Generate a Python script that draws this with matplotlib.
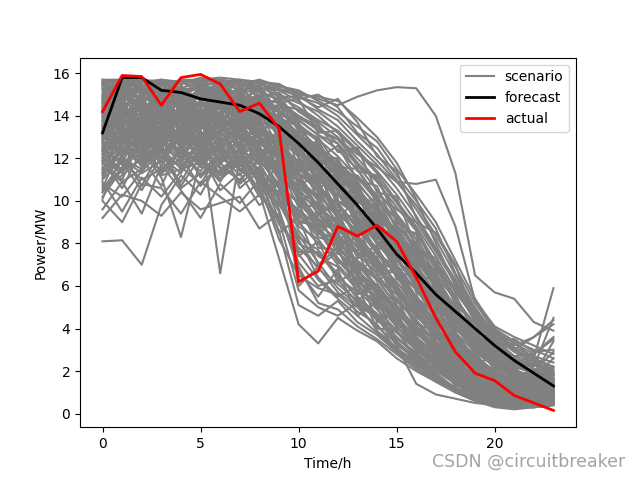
import matplotlib
matplotlib.use("Agg")
import matplotlib.pyplot as plt

hours = list(range(24))

forecast = [13.2, 15.8, 15.8, 15.2, 15.1, 14.8, 14.65, 14.5, 14.1, 13.5, 12.7, 11.8,
            10.8, 9.8, 8.7, 7.5, 6.6, 5.6, 4.8, 4.0, 3.2, 2.5, 1.9, 1.3]
actual = [14.2, 15.9, 15.85, 14.5, 15.8, 15.95, 15.5, 14.2, 14.6, 13.4, 6.2, 6.7,
          8.8, 8.35, 8.85, 8.1, 6.4, 4.5, 2.9, 1.9, 1.55, 0.85, 0.5, 0.15]

# scenario curves (approximate)
scenarios = [
    [15.7,15.7,15.6,15.7,15.6,15.7,15.7,15.6,15.5,15.3,14.9,14.6,14.0,13.1,12.2,11.0,9.6,8.2,6.5,4.8,3.6,2.9,2.4,2.0],
    [14.8,15.2,15.7,15.3,14.9,15.5,15.1,14.6,15.0,14.2,13.8,13.1,12.4,11.5,10.2,9.1,7.8,6.4,5.0,3.9,2.8,2.2,1.9,1.5],
    [13.5,14.2,13.1,14.8,14.0,13.6,14.4,13.9,13.2,12.5,11.6,10.8,9.5,8.4,7.3,6.0,4.9,3.8,2.9,2.1,1.6,1.2,1.0,0.9],
    [12.1,13.0,14.1,12.6,13.5,14.2,12.8,13.6,12.3,11.8,10.4,9.9,8.6,7.9,6.3,5.1,4.0,3.2,2.4,1.8,1.1,0.9,0.8,0.7],
    [15.5,15.7,15.7,15.2,15.6,15.1,15.4,15.7,14.8,14.6,14.0,13.3,12.9,11.8,10.9,9.7,8.6,7.1,5.9,4.5,3.4,2.6,2.3,1.8],
    [11.2,12.5,11.8,13.0,12.1,11.4,12.9,12.2,11.5,10.6,9.3,8.5,7.9,6.8,5.6,4.6,3.5,2.7,1.9,1.2,0.8,0.6,0.5,0.6],
    [14.1,15.0,14.6,15.6,14.3,15.2,14.7,13.8,14.4,13.6,12.8,12.0,11.2,10.1,8.9,7.6,6.5,5.2,4.1,3.3,2.5,2.0,1.7,1.9],
    [13.0,12.2,13.6,14.0,12.9,13.8,13.1,14.2,13.5,12.9,12.1,11.0,10.3,9.1,8.0,6.9,5.5,4.6,3.5,2.6,1.9,1.4,1.2,1.0],
    [10.4,11.6,12.8,11.3,12.0,10.7,11.8,10.9,12.1,11.2,8.6,7.4,6.9,5.8,4.9,3.9,3.1,2.3,1.7,1.1,0.7,0.5,0.6,0.5],
    [15.6,15.1,15.7,14.9,15.7,15.6,14.8,15.3,15.6,15.0,14.6,14.2,13.5,12.6,11.7,10.6,9.3,7.8,6.2,4.9,3.8,3.0,2.6,2.2],
    [8.1,8.15,7.0,9.8,11.2,10.3,12.0,11.5,10.6,9.9,8.1,6.8,6.1,5.3,4.4,3.6,2.8,2.1,1.5,1.0,0.7,0.5,0.4,0.6],
    [12.6,13.4,12.9,13.8,12.5,13.2,6.6,12.1,12.8,11.9,10.9,10.1,9.0,8.2,7.1,6.2,5.0,4.0,3.1,2.3,1.6,1.3,1.1,1.2],
    [11.9,10.6,12.4,11.1,8.3,12.0,11.3,12.5,11.7,10.3,9.6,8.8,7.6,6.7,5.9,4.8,3.8,2.9,2.0,1.4,0.9,0.7,0.6,0.8],
    [9.6,10.9,9.4,11.7,10.5,9.2,10.8,9.9,11.0,8.9,7.8,6.9,5.7,5.0,4.1,3.3,2.5,1.8,1.2,0.8,0.5,0.3,0.4,0.5],
    [14.5,13.7,15.0,14.2,15.3,14.0,15.5,14.9,13.9,14.3,13.4,12.5,11.9,10.8,9.8,8.5,7.2,6.0,4.7,3.6,2.7,2.1,1.6,1.4],
    [12.8,14.6,13.3,12.4,14.4,13.0,13.7,12.6,13.9,12.2,11.3,10.5,9.8,8.7,7.5,6.6,5.3,4.3,3.3,2.5,1.7,1.3,1.2,1.5],
    [13.4,12.0,11.5,12.9,11.9,12.7,11.0,11.8,10.4,7.3,4.2,3.3,4.5,3.9,3.4,2.6,2.0,1.5,1.0,0.7,0.4,0.3,0.4,0.5],
    [11.5,12.8,14.0,13.3,12.7,14.3,13.6,12.4,12.9,11.5,10.1,9.0,8.0,7.2,6.4,5.4,4.3,3.3,2.5,1.8,1.2,0.9,0.8,1.0],
    [15.7,15.4,15.1,15.7,15.5,15.8,15.6,15.2,15.3,15.2,14.7,14.0,13.2,12.3,11.3,10.0,8.8,7.4,5.8,4.4,3.2,2.6,2.1,1.9],
    [10.9,9.5,11.1,10.2,11.4,12.2,10.5,11.3,9.8,10.5,9.0,8.0,7.3,6.3,5.3,4.3,3.3,2.6,1.8,1.2,0.8,0.6,0.7,0.9],
    [14.9,15.5,15.7,15.4,15.7,15.6,15.7,15.5,15.7,15.4,15.1,14.8,14.5,14.9,15.2,15.35,15.3,14.0,11.3,6.5,5.7,5.4,4.3,3.9],
    [13.8,14.7,15.3,14.5,15.0,15.4,14.9,15.3,14.6,14.4,13.9,13.4,12.9,12.2,11.6,10.9,10.8,11.0,8.8,5.3,4.1,3.6,3.2,2.8],
    [12.3,11.4,12.7,13.5,13.1,12.4,13.9,13.3,12.0,12.6,11.7,10.4,9.2,8.0,6.8,5.7,4.6,3.6,2.7,1.9,1.3,1.0,0.9,1.1],
    [14.2,14.9,14.4,13.7,14.8,14.5,14.1,14.7,13.6,11.8,6.0,6.9,7.6,6.5,5.7,4.9,3.9,3.1,2.2,1.5,1.0,0.8,0.7,0.8],
    [15.2,14.4,14.9,15.5,14.6,14.9,15.2,14.4,14.9,13.9,13.1,12.6,11.5,10.6,9.4,8.2,7.0,5.7,4.4,3.4,2.6,1.9,1.5,1.3],
    [13.7,15.6,14.2,14.6,13.8,14.6,14.0,13.4,14.2,13.3,12.4,11.4,10.6,9.6,8.4,7.3,6.1,4.9,3.8,2.9,2.2,1.7,1.4,1.6],
    [12.9,13.8,14.5,14.0,13.4,14.7,14.3,13.9,13.2,13.0,12.3,11.7,10.9,10.0,9.2,8.3,7.5,6.7,5.9,4.8,3.9,3.3,2.6,5.9],
    [11.8,11.0,13.0,12.2,11.6,10.8,12.3,11.6,12.6,11.1,10.6,9.4,8.4,7.5,6.6,5.3,4.4,3.4,2.6,1.7,1.1,0.8,0.7,0.7],
    [14.6,15.3,15.2,14.8,15.4,14.7,15.0,15.6,15.1,14.8,13.6,12.9,12.1,11.1,10.0,8.9,7.7,6.2,5.0,3.8,2.9,2.3,2.0,1.6],
    [10.1,12.2,10.7,12.5,11.5,11.8,12.6,10.6,11.4,10.0,8.3,7.7,6.5,5.5,4.7,3.8,3.0,2.2,1.6,1.0,0.6,0.4,0.3,0.4],
    [13.3,14.1,13.8,14.9,13.2,14.1,13.5,13.0,12.7,12.1,10.9,9.6,8.3,6.9,5.0,3.2,1.4,0.9,0.7,0.5,0.4,0.3,0.3,0.4],
    [15.4,15.6,15.0,15.6,15.2,15.4,14.6,15.0,14.4,14.5,14.3,13.7,13.0,12.0,11.0,9.4,8.2,6.8,5.4,4.2,3.0,2.4,2.0,1.8],
    [12.4,13.2,12.2,13.2,13.7,12.8,12.5,13.0,13.0,12.3,11.0,10.2,9.4,8.6,7.8,6.4,5.2,4.1,3.0,2.2,1.5,1.1,1.0,1.3],
    [14.0,13.5,14.8,13.5,14.1,13.4,14.8,14.0,14.7,13.7,12.9,12.3,11.4,10.4,9.1,7.9,6.7,5.4,4.2,3.2,2.3,1.8,1.5,1.2],
    [9.2,10.3,10.0,9.3,10.4,9.6,9.9,10.2,8.7,9.4,6.9,5.2,4.9,4.1,3.5,2.8,2.1,1.5,1.0,0.6,0.3,0.2,0.3,0.4],
    [15.6,15.7,15.5,15.1,15.7,15.7,15.8,15.7,15.6,15.5,15.0,14.3,13.8,12.8,11.9,10.9,9.8,8.4,6.9,5.2,3.9,3.1,2.7,2.4],
    [13.6,12.6,13.9,13.1,12.8,13.6,12.2,12.8,13.4,12.7,11.8,11.2,10.0,9.3,8.1,7.0,5.8,4.6,3.6,2.7,2.0,1.6,1.3,1.1],
    [11.0,12.0,11.3,11.9,10.9,12.5,11.6,11.0,11.9,10.8,9.9,8.9,8.2,7.0,5.9,5.0,3.9,3.0,2.2,1.5,1.0,0.8,0.9,1.1],
    [14.9,14.1,15.4,14.5,14.6,15.3,14.5,14.8,14.1,14.0,13.2,12.0,11.3,10.3,9.0,7.8,6.4,5.1,4.0,3.0,2.3,1.8,1.6,1.5],
    [12.0,13.6,12.5,14.2,12.4,13.5,13.0,11.9,12.4,11.4,10.2,9.2,7.8,6.8,5.6,4.5,3.6,2.8,2.0,1.4,1.0,0.8,0.7,0.9],
    [13.1,14.4,13.5,12.8,14.5,12.6,13.9,13.5,12.6,13.1,12.5,11.5,10.7,9.7,8.6,7.2,6.0,4.7,3.4,2.4,1.8,1.4,1.1,1.0],
    [14.4,14.8,15.4,15.0,14.4,14.9,15.3,14.2,13.8,13.2,12.6,11.3,10.1,5.3,6.1,4.9,4.0,3.2,2.4,1.7,1.2,0.9,0.8,1.0],
    [10.7,11.2,12.0,10.7,12.7,11.1,12.1,12.8,11.2,9.8,8.8,8.2,7.0,6.0,5.1,4.1,3.2,2.4,1.7,1.1,0.7,0.5,0.5,0.6],
    [15.1,15.7,14.7,15.3,15.0,15.0,15.3,15.1,15.2,14.7,14.0,13.5,12.7,11.7,10.5,9.3,8.0,6.6,5.3,4.0,3.1,2.5,2.2,4.5],
    [12.7,12.9,13.7,12.0,13.0,12.2,13.4,12.9,12.2,11.6,10.7,9.8,8.9,7.6,6.9,5.9,4.7,3.7,2.8,2.0,1.4,1.1,1.0,1.2],
    [13.9,14.0,14.1,14.7,13.6,14.3,13.8,14.4,13.7,13.5,12.7,12.2,11.8,11.0,10.3,9.6,9.0,8.5,7.0,4.4,3.6,3.0,2.5,2.2],
    [11.4,11.8,10.5,12.1,11.3,12.9,11.2,12.0,10.9,10.4,9.5,8.6,7.2,6.2,5.4,4.4,3.4,2.5,1.9,1.3,0.9,0.6,0.6,0.8],
    [14.3,15.1,14.3,15.1,14.9,14.4,14.9,14.6,14.3,13.8,13.0,12.4,11.6,10.5,9.6,8.0,6.9,5.5,4.3,3.1,2.4,1.9,1.7,2.6],
    [10.0,9.0,10.8,10.6,9.4,10.9,10.2,9.5,10.3,9.2,7.5,6.3,5.4,4.6,3.8,3.0,2.3,1.7,1.1,0.7,0.4,0.3,0.3,0.5],
    [15.3,14.6,15.6,15.5,15.3,15.2,15.5,15.4,15.4,14.9,14.4,13.8,13.3,12.4,11.4,10.3,9.0,7.6,6.1,4.6,3.5,2.7,2.4,2.1],
    [13.9,12.5,14.9,13.0,15.1,12.9,14.2,15.0,12.9,12.4,11.9,10.1,11.0,8.9,9.5,7.1,7.9,5.8,4.9,3.2,2.9,1.7,2.1,1.4],
    [15.0,13.3,12.8,15.2,13.3,15.5,12.7,14.1,15.2,13.8,10.8,12.2,9.7,10.9,8.2,8.8,6.3,5.9,3.9,3.5,2.0,2.2,1.3,1.7],
    [12.2,14.8,11.9,13.7,14.9,12.3,15.0,12.5,13.1,14.1,12.0,10.6,11.1,9.0,7.7,8.1,5.7,5.0,3.7,2.4,2.6,1.5,1.2,1.9],
    [14.7,12.9,15.1,12.7,13.9,15.2,13.4,15.4,12.1,13.4,12.9,11.5,9.1,10.2,8.8,6.7,7.0,4.8,4.4,2.8,1.9,1.6,1.8,1.1],
    [11.7,13.1,12.3,14.4,11.8,13.9,12.4,13.7,14.0,11.0,11.4,9.3,10.0,8.0,6.2,7.0,5.1,4.2,2.7,2.9,1.5,1.0,1.3,0.8],
    [13.2,15.4,13.0,14.1,15.5,13.7,15.1,13.2,14.5,14.3,11.5,12.8,10.4,9.4,9.9,7.7,6.2,6.5,4.6,3.0,2.5,2.1,1.4,1.2],
    [10.6,12.7,13.4,11.6,13.3,11.7,14.0,11.4,12.4,12.0,10.0,9.1,8.8,7.4,7.9,5.6,4.8,3.5,3.7,2.0,1.4,1.2,0.9,0.7],
    [14.4,13.9,12.6,14.6,12.6,14.8,13.3,15.2,13.3,12.8,13.3,10.9,11.7,10.7,8.5,7.5,8.1,5.9,4.3,3.7,2.7,1.8,1.9,1.6],
    [12.5,11.7,14.3,12.5,14.2,13.1,11.9,13.4,14.6,13.0,9.8,10.7,8.7,8.4,6.5,6.7,4.6,4.5,3.0,2.1,1.8,1.0,1.1,1.3],
    [15.5,14.3,15.5,13.9,15.4,14.1,15.6,14.5,15.5,14.1,13.7,12.0,12.6,11.0,10.7,8.6,8.5,6.9,5.5,4.0,3.3,2.3,2.5,1.8],
    [11.3,13.3,12.1,13.4,12.2,14.0,11.7,13.1,11.8,12.2,10.5,8.4,9.3,6.6,7.4,5.2,5.6,3.6,2.5,2.2,1.2,0.9,1.0,0.6],
    [13.0,14.5,14.7,12.3,14.7,12.5,14.6,12.9,14.8,13.6,12.2,11.8,10.2,10.5,7.9,8.6,6.5,5.3,4.8,2.9,2.4,1.6,1.5,1.1],
    [14.8,15.6,13.5,15.0,13.0,15.6,13.7,14.9,13.0,12.6,12.6,12.7,9.9,8.8,9.2,6.3,6.8,4.4,3.4,2.6,1.7,1.5,1.0,1.4],
    [12.0,11.3,12.9,14.0,13.8,11.6,13.2,14.4,12.5,11.3,11.0,9.6,9.0,7.8,7.0,5.9,4.2,3.9,2.6,1.6,1.3,0.7,0.9,1.0],
    [13.6,14.6,15.5,13.6,14.2,14.6,15.7,13.5,14.0,13.9,13.5,11.6,11.0,9.9,10.1,8.4,7.3,6.1,4.5,3.5,2.8,2.0,1.8,1.5],
    [12.8,12.3,13.2,11.8,13.5,12.6,12.0,12.4,11.0,10.9,7.4,8.1,6.2,6.7,4.3,4.8,3.0,2.9,1.7,1.4,0.8,0.6,0.8,0.5],
    [14.1,14.2,13.9,15.3,13.7,13.8,14.2,14.7,14.5,12.9,12.4,10.8,10.9,8.7,8.9,6.9,5.8,5.0,3.3,2.7,1.9,1.3,1.2,1.0],
    [15.2,15.7,15.3,14.4,15.7,15.5,15.0,15.6,14.9,15.1,14.2,13.6,12.3,12.5,10.4,10.2,7.8,7.3,5.1,4.3,2.8,2.6,1.9,1.7],
    [11.6,10.9,11.5,12.6,10.7,12.1,11.0,12.6,10.7,11.7,8.9,9.5,7.5,7.7,5.5,5.4,3.7,3.3,2.1,1.5,1.1,0.6,0.7,0.9],
    [13.4,15.0,12.6,13.9,14.2,13.0,14.5,14.3,12.9,14.6,12.8,11.9,11.4,9.2,8.3,7.9,5.9,5.6,3.6,3.3,2.1,1.7,1.5,2.2],
    [12.9,13.5,14.4,13.3,12.3,14.8,12.6,12.3,13.8,12.4,11.2,10.0,8.1,8.9,6.7,6.1,5.4,3.8,3.2,2.0,1.5,1.3,0.8,0.9],
    [14.6,14.3,13.4,14.3,15.3,13.3,15.4,14.0,15.0,13.5,13.0,12.1,12.0,10.1,9.3,8.7,7.1,5.2,5.2,3.3,2.2,1.9,1.7,1.3],
    [10.2,11.5,13.2,11.2,11.5,12.8,11.5,12.1,11.2,8.5,9.2,7.0,7.8,5.6,6.0,4.0,3.5,2.4,1.8,1.3,0.6,0.4,0.6,0.7],
    [15.4,14.9,14.5,15.6,14.1,15.1,14.3,15.5,14.2,14.9,13.8,13.1,12.7,11.4,11.2,9.0,8.4,6.3,5.6,3.7,3.2,2.2,2.3,1.9],
    [12.6,12.4,11.7,12.7,14.1,12.0,13.8,11.7,12.7,12.5,10.8,10.3,7.9,8.3,7.2,5.0,4.9,3.4,2.3,2.3,1.1,1.1,0.9,0.8],
    [13.8,13.7,15.2,14.3,12.9,14.2,14.1,13.7,14.9,13.1,12.3,11.0,10.7,9.8,8.0,7.4,6.0,5.3,3.8,2.6,2.0,1.5,1.3,1.4],
    [11.9,12.9,12.5,11.4,12.4,11.2,12.4,10.8,11.6,9.6,6.7,5.5,6.8,4.6,5.3,3.5,2.9,2.0,1.6,0.9,0.6,0.5,0.4,0.6],
    [14.3,15.3,14.1,14.9,14.8,15.6,14.4,14.6,15.3,14.1,13.6,12.2,11.8,10.9,9.7,8.3,7.6,6.0,4.6,3.4,2.7,2.0,1.8,3.4],
    [12.4,11.8,13.5,13.4,13.2,12.5,12.8,13.6,13.7,11.9,11.2,9.7,9.6,7.3,7.6,6.0,4.5,4.1,2.9,1.9,1.6,1.0,1.1,0.8],
    [15.0,15.5,14.6,14.1,15.1,14.8,15.7,14.8,14.6,14.7,13.3,13.0,11.6,11.5,9.9,9.2,7.5,6.5,4.9,3.9,2.6,2.3,1.9,1.6],
    [13.3,12.7,14.0,12.9,13.4,14.4,12.7,13.3,12.6,12.9,11.7,10.9,9.3,9.3,7.5,6.9,5.0,4.3,3.2,2.3,1.7,1.2,1.0,1.2],
    [12.2,13.8,12.6,13.5,11.9,13.3,11.8,12.7,11.3,10.2,8.2,6.4,5.5,6.0,4.0,3.9,2.6,2.4,1.3,1.1,0.5,0.4,0.5,0.4],
    [14.2,14.0,14.9,14.7,14.5,14.2,14.7,15.3,14.0,13.7,12.1,12.9,10.8,10.8,9.0,8.1,6.8,5.6,4.1,3.2,2.4,1.6,1.5,1.3],
    [11.1,12.4,12.0,12.8,11.7,12.3,12.2,11.2,12.3,11.6,9.7,9.8,8.5,7.1,6.4,5.6,4.1,3.4,2.4,1.8,1.0,0.9,0.7,1.1],
    [15.6,14.7,15.7,15.5,14.9,15.4,15.2,15.0,15.7,14.6,14.8,13.2,13.3,11.6,11.1,9.9,8.7,7.0,5.7,4.5,3.4,2.5,2.3,2.0],
    [12.9,14.3,12.9,12.7,13.1,13.5,13.5,14.0,12.0,13.3,10.7,11.3,9.5,8.5,8.4,6.5,5.9,4.4,3.1,2.5,1.8,1.4,1.2,1.0],
    [13.5,13.1,13.6,14.1,14.0,12.8,13.9,12.6,13.6,12.0,11.9,10.4,9.9,8.3,7.1,6.8,5.3,4.7,3.0,2.2,1.5,1.1,1.2,1.3],
    [14.5,15.2,14.8,13.8,15.2,14.5,14.6,15.1,14.5,14.2,13.5,12.8,11.3,11.2,10.1,8.8,7.4,6.4,4.8,3.6,2.6,1.8,1.6,1.5],
    [10.8,10.2,11.4,12.3,10.6,11.3,11.4,11.8,10.2,10.8,9.4,8.3,8.0,6.5,5.8,4.7,3.9,2.8,2.0,1.4,0.9,0.6,0.5,0.7],
    [13.1,13.6,14.2,13.6,13.1,13.9,13.0,13.8,13.3,12.6,11.4,11.6,10.0,9.5,8.1,7.6,6.3,4.9,3.5,2.8,1.8,1.6,1.3,1.1],
    [12.5,13.0,11.9,12.8,12.9,12.9,11.8,12.3,12.5,10.1,8.4,7.1,5.9,5.1,4.5,3.2,2.7,1.9,1.2,0.9,0.5,0.3,0.4,0.5],
    [13.7,12.8,13.4,14.5,12.7,13.5,14.0,12.9,13.0,11.4,9.1,8.7,7.3,6.3,5.5,4.2,3.5,2.4,1.5,1.2,0.7,0.5,0.6,0.7],
    [11.5,12.1,13.1,12.0,13.6,12.4,13.3,12.0,12.2,10.7,9.9,7.8,7.7,6.1,5.0,4.6,3.1,2.6,1.6,1.0,0.6,0.4,0.5,0.6],
    [14.0,14.4,13.2,14.2,13.3,14.7,13.2,14.1,13.1,12.1,10.3,9.7,8.9,7.0,6.3,5.1,3.8,3.0,2.1,1.6,1.0,0.7,0.8,0.9],
    [12.7,13.3,13.8,13.0,14.0,12.1,14.1,13.1,12.4,11.0,9.0,8.9,7.1,6.9,5.2,4.4,3.3,2.2,1.5,0.9,0.5,0.4,0.4,0.5],
    [10.5,11.9,11.0,11.5,12.3,11.9,10.9,12.4,11.8,10.1,8.0,7.5,6.6,5.4,4.6,3.4,2.6,1.8,1.1,0.7,0.4,0.3,0.5,0.6],
    [13.2,14.0,12.4,13.9,12.6,13.1,13.7,13.6,11.8,11.3,10.2,8.6,8.1,7.1,6.0,4.9,3.6,2.7,1.9,1.3,0.8,0.6,0.6,0.8],
    [14.8,13.4,14.7,13.2,14.6,13.7,14.8,13.0,14.3,12.4,11.3,10.8,9.2,8.1,6.9,5.8,4.3,3.3,2.3,1.6,1.1,0.8,0.9,1.0],
    [11.8,12.6,12.2,13.6,12.0,13.7,12.5,13.8,12.9,11.6,10.4,9.1,8.5,6.4,5.8,5.0,4.1,3.1,2.2,1.5,1.0,0.7,0.6,0.8],
    [15.3,15.0,15.4,14.6,14.5,15.1,14.8,14.3,14.7,13.4,12.5,11.1,10.5,9.0,7.6,6.6,5.1,4.0,2.9,2.0,1.4,1.0,1.1,1.2],
    [15.0,15.6,15.4,15.7,15.3,15.6,15.4,15.7,15.5,15.2,15.0,14.9,14.7,13.9,13.0,11.8,10.1,8.0,6.0,4.3,3.3,2.7,2.8,3.5],
    [14.7,15.4,15.6,15.5,15.6,15.3,15.7,15.4,15.6,15.4,15.2,14.7,14.2,13.5,12.8,11.5,10.3,9.0,7.2,5.4,4.0,3.4,3.0,2.6],
    [15.5,15.3,15.7,15.6,15.5,15.7,15.5,15.6,15.2,15.5,14.8,15.0,14.4,13.2,12.5,11.2,10.0,8.7,6.6,5.0,3.7,3.2,3.6,4.2],
    [14.4,15.7,15.2,15.0,15.7,15.4,15.6,15.2,15.4,14.9,14.9,14.4,14.8,13.7,12.1,11.4,9.2,7.7,6.3,4.7,3.5,3.5,2.9,3.0],
    [12.0,11.5,12.7,11.3,12.5,11.6,11.4,11.9,10.5,8.6,5.1,4.6,5.3,4.3,3.7,2.9,2.2,1.6,1.0,0.6,0.4,0.3,0.3,0.4],
    [13.1,12.3,12.9,12.3,13.0,12.0,12.7,11.4,11.5,9.1,5.8,5.0,4.6,5.2,3.9,3.1,2.4,1.7,1.2,0.8,0.5,0.4,0.4,0.5],
    [12.4,12.9,11.6,12.4,11.6,12.8,11.9,12.3,10.8,8.2,6.5,5.9,5.6,4.8,4.2,3.0,2.5,1.6,1.1,0.7,0.4,0.3,0.4,0.6],
    [11.3,12.6,12.2,13.1,12.6,11.7,12.5,11.5,11.1,9.5,7.1,6.0,6.3,5.2,4.6,3.6,2.7,2.0,1.4,0.8,0.5,0.4,0.5,0.5],
    [13.5,13.9,12.8,13.2,13.0,13.6,12.9,12.7,12.0,10.6,7.6,7.6,6.4,5.7,5.4,4.1,3.1,2.3,1.6,1.1,0.6,0.5,0.6,0.7],
    [13.0,13.9,14.6,13.9,14.3,13.9,14.6,14.1,13.9,13.4,12.9,12.1,11.1,10.4,9.4,8.2,7.2,5.9,4.5,3.9,3.4,3.0,3.6,4.4],
    [14.2,13.6,14.4,14.8,13.9,14.7,14.0,14.8,14.2,13.6,13.1,12.4,11.5,10.6,9.5,8.4,7.4,6.1,4.9,3.6,2.9,3.3,2.8,3.6],
    [12.3,12.6,13.3,12.8,13.9,13.2,12.9,13.4,12.7,12.1,11.5,10.7,9.8,8.8,7.7,6.5,5.5,4.3,3.3,2.6,2.0,2.4,2.0,2.9],
]

plt.figure(figsize=(6.4, 4.8))
for i, s in enumerate(scenarios):
    plt.plot(hours, s, color="gray", label="scenario" if i == 0 else None)
plt.plot(hours, forecast, color="black", linewidth=2, label="forecast")
plt.plot(hours, actual, color="red", linewidth=2, label="actual")

plt.xlabel("Time/h")
plt.ylabel("Power/MW")
plt.legend(loc="upper right")
plt.gcf().text(0.977, 0.02, "CSDN @circuitbreaker", ha="right", va="bottom",
               fontsize=12.5, color="#a3a3a3")
plt.savefig("out.png", dpi=100)
